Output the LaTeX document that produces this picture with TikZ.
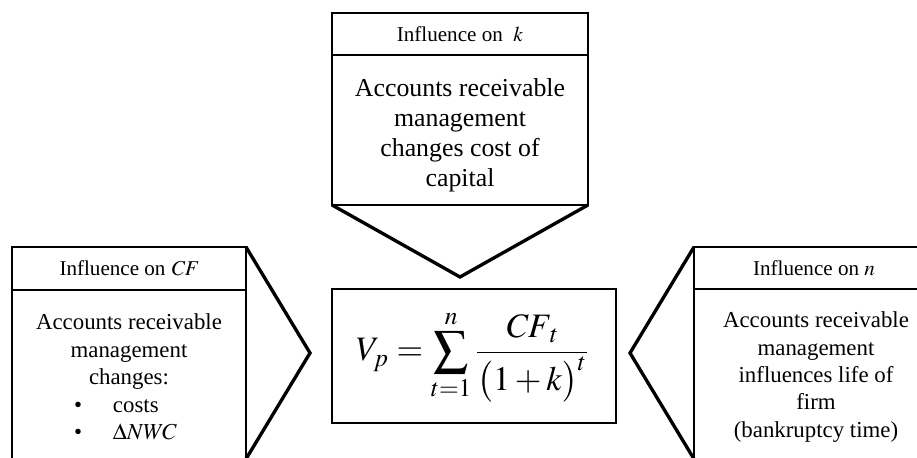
\documentclass[tikz,border=0pt]{standalone}
\usepackage{mathptmx}
\usepackage{fontspec}
\setmainfont{Liberation Serif}

\begin{document}
\begin{tikzpicture}[
		frame/.style={line width=0.9pt},
		chevron/.style={line width=1.9pt, line join=miter},
		head/.style={font=\fontsize{12}{14}\selectfont},
		bigbody/.style={align=center, font=\fontsize{14.7}{17}\selectfont},
		body/.style={align=center, font=\fontsize{13}{15.6}\selectfont}]
		\useasboundingbox (0,0) rectangle (18.34,9.16);
		
		% upper block (k)
		\draw[frame] (6.64,8.90) rectangle (11.76,5.06);
		\draw[frame] (6.64,8.06) -- (11.76,8.06);
		\draw[chevron] (6.64,5.06) -- (9.20,3.62) -- (11.76,5.06);
		\node[head] (headk) at (9.20,8.48) {Influence on \ $k$};
		\node[bigbody] (bodyk) at (9.20,6.46) {Accounts receivable\\ management\\ changes cost of\\ capital};
		
		% left block (CF)
		\draw[frame] (0.24,-0.2) -- (0.24,4.22) -- (4.92,4.22) -- (4.92,-0.2);
		\draw[frame] (0.24,3.36) -- (4.92,3.36);
		\draw[chevron] (4.92,4.22) -- (6.20,2.10) -- (4.92,-0.02);
		\node[head] (headcf) at (2.58,3.80) {Influence on $\mathit{CF}$};
		\node[body] (bodycf) at (2.58,1.62) {Accounts receivable\\ management\\ changes:\\
			\makebox[2.2cm][l]{\textbullet\hspace{0.62cm}costs}\\
			\makebox[2.2cm][l]{\textbullet\hspace{0.62cm}$\Delta \mathit{NWC}$}};
		
		% right block (n)
		\draw[frame] (13.88,-0.2) -- (13.88,4.22) -- (18.6,4.22);
		\draw[frame] (13.88,3.38) -- (18.6,3.38);
		\draw[chevron] (13.88,4.22) -- (12.60,2.10) -- (13.88,-0.02);
		\node[head] (headn) at (16.28,3.80) {Influence on $n$};
		\node[body] (bodyn) at (16.32,1.62) {Accounts receivable\\ management\\ influences life of\\ firm\\ (bankruptcy time)};
		
		% value of the firm
		\draw[frame] (6.64,3.38) rectangle (12.32,0.70);
		\node[font=\fontsize{19.5}{23}\selectfont] (value) at (9.45,2.04)
			{$\displaystyle V_p = \sum_{t=1}^{n} \frac{\mathit{CF}_t}{\bigl(1+k\bigr)^t}$};
	\end{tikzpicture}
\end{document}
